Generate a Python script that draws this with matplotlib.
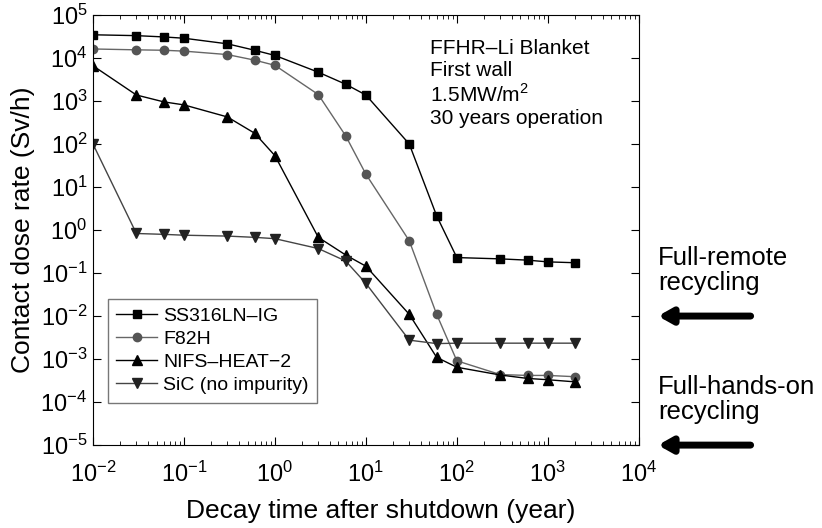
import numpy as np
import matplotlib.pyplot as plt

plt.rcParams['font.family'] = ['Liberation Sans', 'DejaVu Sans']
plt.rcParams['mathtext.fontset'] = 'custom'
plt.rcParams['mathtext.rm'] = 'Liberation Sans'

# decay time (year)
t = [0.01, 0.03, 0.06, 0.1, 0.3, 0.6, 1, 3, 6, 10, 30, 60, 100, 300, 600, 1000, 2000]

# log10 of contact dose rate (Sv/h)
ss316 = [4.54, 4.52, 4.49, 4.46, 4.33, 4.18, 4.06, 3.67, 3.39, 3.14, 2.0, 0.33,
         -0.64, -0.67, -0.70, -0.74, -0.76]
f82h = [4.21, 4.19, 4.18, 4.16, 4.08, 3.95, 3.83, 3.15, 2.19, 1.30, -0.25, -1.96,
        -3.04, -3.36, -3.38, -3.38, -3.41]
nifs = [3.82, 3.14, 2.98, 2.91, 2.63, 2.25, 1.73, -0.17, -0.58, -0.84, -1.96, -2.96,
        -3.19, -3.37, -3.45, -3.48, -3.53]
sic = [2.0, -0.08, -0.10, -0.12, -0.14, -0.17, -0.20, -0.43, -0.72, -1.24, -2.56, -2.64,
       -2.63, -2.63, -2.63, -2.63, -2.63]

fig = plt.figure(figsize=(8.22, 5.28), dpi=100)
ax = fig.add_axes([0.1131, 0.157, 0.664, 0.8146])

ax.plot(t, 10**np.array(ss316), 's-', color='black', lw=1.0, ms=6, label='SS316LN\u2013IG')
ax.plot(t, 10**np.array(f82h), 'o-', color='#666666', mfc='#555555', mec='#555555',
        lw=1.0, ms=6, label='F82H')
ax.plot(t, 10**np.array(nifs), '^-', color='black', lw=1.0, ms=7, label='NIFS\u2013HEAT\u22122')
ax.plot(t, 10**np.array(sic), 'v-', color='#444444', mfc='#222222', mec='#222222',
        lw=1.0, ms=7, label='SiC (no impurity)')

ax.set_xscale('log')
ax.set_yscale('log')
ax.set_xlim(1e-2, 1e4)
ax.set_ylim(1e-5, 1e5)
ax.set_xticks([10.0**k for k in range(-2, 5)])
ax.set_yticks([10.0**k for k in range(-5, 6)])
ax.tick_params(which='both', direction='in', top=True, right=True, labelsize=17)
ax.tick_params(which='major', length=6)
ax.tick_params(which='minor', length=3)
ax.tick_params(axis='x', pad=12)
ax.tick_params(axis='y', pad=4)

ax.set_xlabel('Decay time after shutdown (year)', fontsize=19)
ax.xaxis.set_label_coords(0.527, -0.125)
ax.set_ylabel('Contact dose rate (Sv/h)', fontsize=19, labelpad=4)

leg = ax.legend(loc='lower left', bbox_to_anchor=(0.027, 0.098), borderaxespad=0,
                fontsize=14, fancybox=False, framealpha=1, edgecolor='#777777',
                handlelength=2.1, handletextpad=0.3, borderpad=0.45, labelspacing=0.28)
leg.get_frame().set_linewidth(1.0)

ax.text(0.617, 0.945, 'FFHR\u2013Li Blanket\nFirst wall\n1.5MW/m$^2$\n30 years operation',
        transform=ax.transAxes, fontsize=15, va='top', ha='left', linespacing=1.2)

# recycling limits
limits = [1e-2, 1e-5]
notes = ['Full-remote\nrecycling', 'Full-hands-on\nrecycling']
for lim, note in zip(limits, notes):
    ax.annotate('', xy=(1.03, lim), xytext=(1.21, lim),
                xycoords=('axes fraction', 'data'), textcoords=('axes fraction', 'data'),
                arrowprops=dict(arrowstyle='-|>,head_length=0.8,head_width=0.45',
                                color='black', lw=5), annotation_clip=False)
    ax.annotate(note, xy=(1.035, lim * 10**0.5), xycoords=('axes fraction', 'data'),
                fontsize=18.5, va='bottom', ha='left', annotation_clip=False,
                linespacing=1.05)

fig.savefig('out.png', dpi=100)
